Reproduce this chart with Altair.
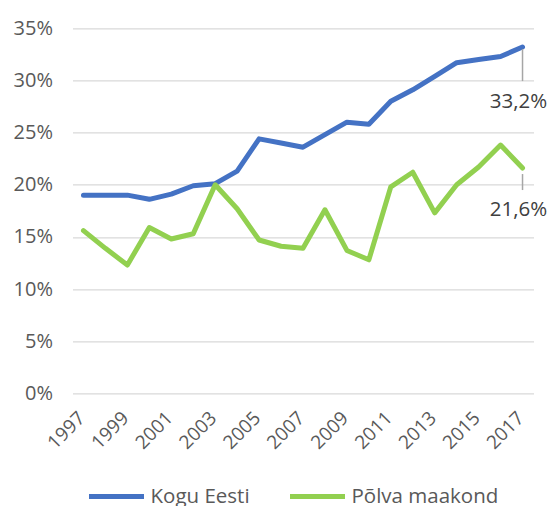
import altair as alt
import pandas as pd

years = list(range(1997, 2018))
kogu_eesti = [19.0, 19.0, 19.0, 18.6, 19.1, 19.9, 20.1, 21.3, 24.4, 24.0, 23.6,
              24.8, 26.0, 25.8, 28.0, 29.1, 30.4, 31.7, 32.0, 32.3, 33.2]
polva = [15.6, 13.9, 12.3, 15.9, 14.8, 15.3, 20.0, 17.7, 14.7, 14.1, 13.9,
         17.6, 13.7, 12.8, 19.8, 21.2, 17.3, 20.0, 21.7, 23.8, 21.6]
series_names = ["Kogu Eesti", "Põlva maakond"]
colors = ["#4472C4", "#92D050"]
y_ticks = [0, 5, 10, 15, 20, 25, 30, 35]

rows = []
for name, vals in zip(series_names, [kogu_eesti, polva]):
    for yr, v in zip(years, vals):
        rows.append({"year": str(yr), "value": v, "series": name})
df = pd.DataFrame(rows)

FONT = "Open Sans"
year_order = [str(y) for y in years]

x_enc = alt.X("year:O", sort=year_order, title=None,
              axis=alt.Axis(labelExpr="toNumber(datum.value) % 2 == 1 ? datum.value : ''",
                            labelAngle=-45, labelFontSize=19,
                            labelColor="#595959", labelFont=FONT, ticks=False,
                            domain=False, grid=False, labelPadding=15, labelOffset=-8,
                            labelOverlap=False, labelBound=False))
y_enc = alt.Y("value:Q", title=None,
              scale=alt.Scale(domain=[0, 35], nice=False),
              axis=alt.Axis(values=y_ticks, labelExpr="datum.value + '%'",
                            labelFontSize=20, labelColor="#595959", labelFont=FONT,
                            ticks=False, domain=False, grid=True, gridColor="#D9D9D9",
                            gridWidth=1.3, labelPadding=20))

lines = alt.Chart(df).mark_line(strokeWidth=5, strokeCap="round", strokeJoin="round").encode(
    x=x_enc,
    y=y_enc,
    color=alt.Color("series:N", sort=series_names,
                    scale=alt.Scale(domain=series_names, range=colors),
                    legend=alt.Legend(title=None, orient="none", direction="horizontal",
                                      legendX=14, legendY=438, symbolType="stroke",
                                      symbolSize=3025, symbolStrokeWidth=5,
                                      labelFontSize=20.5, labelFont=FONT, labelColor="#595959",
                                      labelOffset=4, columnPadding=29, padding=0)),
)

last = df[df["year"] == str(years[-1])].copy()
last["label"] = last["value"].map(lambda v: f"{v:.1f}".replace(".", ",") + "%")
last_kogu = last[last["series"] == series_names[0]]
last_polva = last[last["series"] == series_names[1]]

def leader(d, y_off, y2_off):
    return alt.Chart(d).mark_rule(color="#A6A6A6", strokeWidth=1.5,
                                  yOffset=y_off, y2Offset=y2_off).encode(
        x=alt.X("year:O", sort=year_order), y="value:Q", y2="value:Q")

def label(d, dy):
    return alt.Chart(d).mark_text(fontSize=20.5, font=FONT, color="#404040", dy=dy, dx=-4,
                                  align="center", baseline="middle").encode(
        x=alt.X("year:O", sort=year_order), y="value:Q", text="label:N")

chart = alt.layer(
    lines,
    leader(last_kogu, 2, 34), label(last_kogu, 55),
    leader(last_polva, 6, 22), label(last_polva, 42),
).properties(
    width=461, height=365,
    autosize=alt.AutoSizeParams(type="none"),
    padding={"left": 64.5, "top": 20.3, "right": 13.5, "bottom": 112.7},
).configure_view(stroke=None)

chart.save("out.html", embed_options={"renderer": "svg", "actions": False})
